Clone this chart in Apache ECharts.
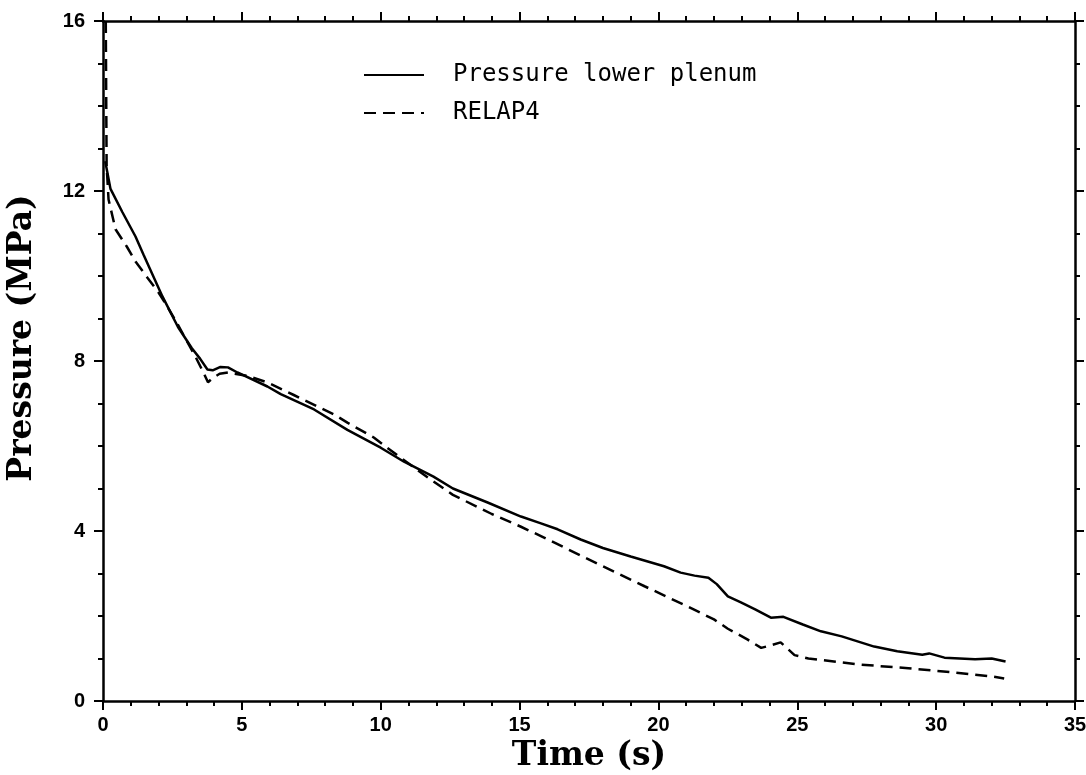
<!DOCTYPE html>
<html>
<head>
<meta charset="utf-8">
<script src="https://cdn.jsdelivr.net/npm/echarts@6/dist/echarts.min.js"></script>
<style>html,body{margin:0;padding:0;background:#fff}#c{width:1086px;height:775px}</style>
</head>
<body>
<div id="c"></div>
<script>
const seriesNames = ['Pressure lower plenum', 'RELAP4'];
const xTicks = [0, 5, 10, 15, 20, 25, 30, 35];
const yTicks = [0, 4, 8, 12, 16];
const pressureLowerPlenum = [
  [0.08,12.7],[0.27,12.05],[0.7,11.5],[1.17,10.93],[1.46,10.5],[2.14,9.52],[2.7,8.8],[3.2,8.3],[3.5,8.05],
  [3.76,7.8],[3.95,7.78],[4.23,7.86],[4.5,7.85],[4.84,7.73],[5.92,7.4],[6.4,7.22],[7.6,6.86],[8.8,6.38],
  [10.0,5.96],[10.84,5.63],[11.9,5.28],[12.6,5.0],[13.85,4.67],[15.05,4.34],[15.77,4.18],[16.37,4.04],
  [17.2,3.8],[18,3.6],[19.0,3.4],[20.2,3.17],[20.8,3.02],[21.3,2.95],[21.8,2.9],[22.1,2.75],[22.5,2.46],
  [22.97,2.32],[23.5,2.15],[24.05,1.96],[24.5,1.98],[25.2,1.8],[25.85,1.64],[26.6,1.52],[27.77,1.28],
  [28.6,1.17],[29.5,1.09],[29.75,1.12],[30.3,1.02],[31.4,0.98],[32.0,1.0],[32.5,0.93]
];
const relap4 = [
  [0.1,16.0],[0.13,12.6],[0.2,11.8],[0.45,11.1],[0.85,10.7],[1.17,10.34],[1.6,9.96],[2.0,9.61],[2.3,9.3],
  [2.7,8.85],[3.33,8.1],[3.6,7.75],[3.78,7.5],[3.95,7.6],[4.2,7.7],[4.5,7.73],[5.2,7.65],[5.9,7.5],
  [6.87,7.2],[8.3,6.75],[8.8,6.55],[9.75,6.2],[10.6,5.78],[11.8,5.21],[12.6,4.85],[14,4.4],[15.05,4.1],
  [15.77,3.88],[17.9,3.2],[19.5,2.7],[21.06,2.22],[22.0,1.92],[22.5,1.7],[23.2,1.45],[23.7,1.25],
  [24.0,1.3],[24.4,1.38],[24.9,1.08],[25.4,1.0],[27.2,0.86],[29,0.77],[30.5,0.68],[32,0.58],[32.45,0.53]
];

const chart = echarts.init(document.getElementById('c'), null, {renderer: 'canvas'});
const axisLine = {show: true, onZero: false, lineStyle: {color: '#000', width: 2.5}};
const tickLabelFont = {color: '#000', fontFamily: 'Liberation Sans', fontWeight: 'bold', fontSize: 20};
const nameFont = {color: '#000', fontFamily: 'DejaVu Serif', fontWeight: 'bold', fontSize: 33};
function xAx(pos, labels) {
  return {
    type: 'value', position: pos, min: xTicks[0], max: xTicks[xTicks.length-1], interval: 5,
    axisLine: axisLine,
    axisTick: {show: true, inside: false, length: 9, lineStyle: {color: '#000', width: 2}},
    minorTick: {show: true, splitNumber: 5, length: 5, lineStyle: {color: '#000', width: 2}},
    splitLine: {show: false}, minorSplitLine: {show: false},
    axisLabel: labels ? Object.assign({margin: 14}, tickLabelFont) : {show: false},
    name: labels ? 'Time (s)' : '', nameLocation: 'middle', nameGap: 36, nameTextStyle: nameFont
  };
}
function yAx(pos, labels) {
  return {
    type: 'value', position: pos, min: yTicks[0], max: yTicks[yTicks.length-1], interval: 4,
    axisLine: axisLine,
    axisTick: {show: true, inside: false, length: 9, lineStyle: {color: '#000', width: 2}},
    minorTick: {show: true, splitNumber: 4, length: 5, lineStyle: {color: '#000', width: 2}},
    splitLine: {show: false}, minorSplitLine: {show: false},
    axisLabel: labels ? Object.assign({margin: 18}, tickLabelFont) : {show: false},
    name: labels ? 'Pressure (MPa)' : '', nameLocation: 'middle', nameGap: 64,
    nameTextStyle: Object.assign({padding: [0, 0, 0, 46]}, nameFont)
  };
}
chart.setOption({
  animation: false,
  backgroundColor: '#fff',
  grid: {left: 103, right: 11, top: 21, bottom: 74, containLabel: false, outerBoundsMode: 'none'},
  legend: {
    orient: 'vertical', left: 358, top: 58, itemWidth: 60, itemHeight: 14, itemGap: 14,
    itemStyle: {color: 'rgba(0,0,0,0)', borderWidth: 0, opacity: 0},
    textStyle: {color: '#000', fontFamily: 'DejaVu Sans Mono', fontSize: 24, padding: [0,0,0,24]},
    data: seriesNames
  },
  xAxis: [xAx('bottom', true), xAx('top', false)],
  yAxis: [yAx('left', true), yAx('right', false)],
  series: [
    {name: seriesNames[0], type: 'line', data: pressureLowerPlenum, showSymbol: false, symbol: 'none',
     smooth: false, lineStyle: {color: '#000', width: 2.5, type: 'solid'}, itemStyle: {color: '#000'}},
    {name: seriesNames[1], type: 'line', data: relap4, showSymbol: false, symbol: 'none',
     smooth: false, lineStyle: {color: '#000', width: 2.5, type: [12, 7]}, itemStyle: {color: '#000'}}
  ]
});
</script>
</body>
</html>
